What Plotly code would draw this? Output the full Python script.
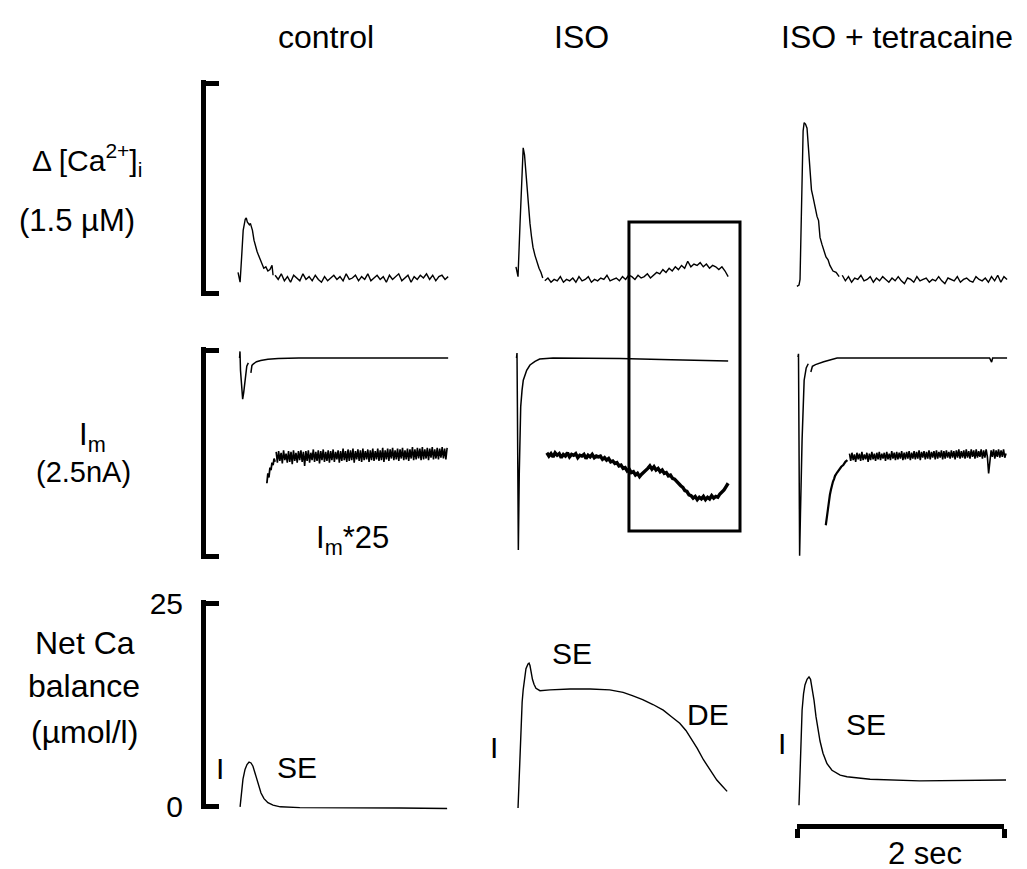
import numpy as np
import plotly.graph_objects as go

W, H = 1027, 869

# ---------------- DATA (time in s from each column's trace start) ----------------
# Row 1: Delta [Ca2+]i (uM)
ca_ctrl_t = [0.01, 0.03, 0.045, 0.06, 0.08, 0.09, 0.10, 0.12, 0.13, 0.15, 0.165, 0.18, 0.195, 0.21, 0.225, 0.24, 0.26, 0.28, 0.30, 0.32, 0.34, 0.35]
ca_ctrl_v = [0.04, -0.03, 0.15, 0.34, 0.42, 0.43, 0.40, 0.38, 0.39, 0.34, 0.27, 0.22, 0.19, 0.16, 0.13, 0.10, 0.07, 0.08, 0.05, 0.06, 0.09, 0.02]
ca_ctrl_tail = [0.02, -0.01, 0.03, -0.02, 0.01, -0.03, 0.02, 0.00, -0.02, 0.03, -0.01, 0.01, -0.02, 0.02, -0.01, -0.03, 0.01, -0.02, 0.00, 0.02,
                -0.01, 0.01, -0.02, 0.03, -0.01, 0.00, 0.02, -0.02, 0.01, -0.01, 0.03, -0.02, 0.00, 0.02, -0.01, 0.01, -0.03, 0.02, -0.01, 0.01,
                0.03, -0.02, 0.00, 0.02, -0.03, 0.01, -0.01, 0.02, 0.00, 0.03, -0.01, 0.02, -0.02, 0.01, 0.02, -0.01, 0.01]
ca_ctrl_tail_span = (0.37, 2.05)

ca_iso_t = [-0.01, 0.01, 0.03, 0.045, 0.06, 0.073, 0.087, 0.097, 0.11, 0.126, 0.14, 0.155, 0.175, 0.194, 0.214, 0.233, 0.25]
ca_iso_v = [0.08, 0.01, 0.40, 0.70, 0.93, 0.88, 0.74, 0.70, 0.55, 0.39, 0.30, 0.22, 0.16, 0.11, 0.07, 0.04, 0.00]
ca_iso_tail = [-0.02, 0.00, -0.03, -0.01, -0.02, 0.01, -0.03, -0.01, -0.02, 0.00, -0.03, 0.01, -0.02, -0.01, 0.01, -0.03, -0.01, -0.02, 0.00, -0.01,
               0.02, -0.02, -0.01, 0.00, -0.02, 0.01, -0.01, 0.02,
               0.01, -0.01, 0.02, 0.00, 0.01, 0.03, 0.00, 0.02, 0.04, 0.03, 0.06, 0.04, 0.07, 0.05, 0.08, 0.06, 0.09, 0.07, 0.12, 0.08,
               0.10, 0.09, 0.11, 0.08, 0.10, 0.07, 0.09, 0.08, 0.06, 0.08, 0.05, 0.01]
ca_iso_tail_span = (0.27, 2.05)

ca_tet_t = [-0.02, 0.0, 0.01, 0.02, 0.03, 0.04, 0.05, 0.063, 0.078, 0.092, 0.107, 0.121, 0.136, 0.155, 0.175, 0.19, 0.204, 0.223, 0.243, 0.262, 0.282, 0.30, 0.33, 0.36, 0.39]
ca_tet_v = [-0.06, -0.05, -0.01, 0.30, 0.70, 1.05, 1.11, 1.10, 1.07, 0.93, 0.77, 0.63, 0.58, 0.50, 0.44, 0.41, 0.29, 0.24, 0.20, 0.15, 0.13, 0.09, 0.05, 0.04, 0.01]
ca_tet_tail = [0.02, -0.02, 0.01, -0.03, 0.00, -0.01, 0.02, -0.02, -0.01, 0.01, -0.03, 0.00, -0.02, 0.01, -0.01, -0.03, 0.00, -0.02, 0.01, -0.02,
               -0.04, 0.00, -0.01, -0.03, 0.01, -0.02, -0.01, 0.00, -0.03, -0.01, -0.02, 0.01, -0.02, -0.04, 0.00, -0.01, -0.02, 0.01, -0.03, -0.01,
               0.00, -0.02, -0.03, 0.01, -0.01, -0.02, 0.00, -0.03, 0.01, -0.02, 0.02, -0.03, 0.01, -0.01]
ca_tet_tail_span = (0.42, 2.02)

# Row 2: Im (nA), top trace raw, bottom trace Im*25 (offset for display)
im_ctrl_t = [0.025, 0.029, 0.034, 0.045, 0.055, 0.065, 0.08, 0.095, 0.11, None, 0.135, 0.145, 0.16, 0.19, 0.23, 0.30, 0.40, 0.60, 2.05]
im_ctrl_v = [0.0, 0.08, -0.15, -0.35, -0.50, -0.42, -0.22, -0.10, -0.06, None, -0.18, -0.09, -0.07, -0.045, -0.03, -0.015, -0.005, 0.0, 0.0]
im25_ctrl_t = [0.29, 0.30, 0.31, 0.32, 0.33, 0.34, 0.35, 0.36, 0.37]
im25_ctrl_v = [-1.52, -1.40, -1.45, -1.33, -1.36, -1.27, -1.30, -1.22, -1.26]
im25_ctrl_tail = [-1.14, -1.27, -1.13, -1.25, -1.15, -1.28, -1.12, -1.24, -1.16, -1.27, -1.13, -1.26, -1.14, -1.29, -1.12, -1.25, -1.15, -1.27, -1.13, -1.24,
                  -1.12, -1.26, -1.14, -1.31, -1.13, -1.25, -1.12, -1.27, -1.15, -1.24, -1.11, -1.26, -1.14, -1.25, -1.12, -1.28, -1.13, -1.24, -1.11, -1.26,
                  -1.14, -1.25, -1.12, -1.27, -1.13, -1.24, -1.11, -1.26, -1.14, -1.23, -1.12, -1.27, -1.13, -1.25, -1.10, -1.24, -1.13, -1.26, -1.11, -1.25,
                  -1.12, -1.24, -1.10, -1.27, -1.13, -1.23, -1.11, -1.25, -1.12, -1.26, -1.10, -1.24, -1.13, -1.23, -1.11, -1.26, -1.12, -1.24, -1.10, -1.25,
                  -1.13, -1.23, -1.10, -1.25, -1.12, -1.24, -1.09, -1.26, -1.12, -1.23, -1.10, -1.25, -1.11, -1.22, -1.09, -1.24, -1.12, -1.23, -1.10, -1.25,
                  -1.11, -1.22, -1.09, -1.24, -1.12, -1.23, -1.10, -1.25, -1.11, -1.22, -1.08, -1.24, -1.11, -1.23, -1.09, -1.22, -1.10, -1.24, -1.08, -1.23,
                  -1.11, -1.22, -1.09, -1.24, -1.10, -1.21, -1.08, -1.23, -1.11, -1.22, -1.09, -1.23, -1.10, -1.21, -1.08, -1.22, -1.10, -1.23, -1.09]
im25_ctrl_tail_span = (0.38, 2.04)

im_iso_t = [-0.005, 0.0, 0.004, 0.008, 0.013, 0.022, 0.036, 0.049, 0.061, 0.094, 0.126, 0.175, 0.22, 0.35, 1.0, 1.5, 2.05]
im_iso_v = [0.0, 0.06, -0.6, -1.8, -2.33, -1.40, -0.59, -0.39, -0.27, -0.15, -0.085, -0.04, -0.012, 0.0, -0.005, -0.02, -0.035]
im25_iso = [-1.15, -1.19, -1.16, -1.20, -1.15, -1.18, -1.16, -1.21, -1.17, -1.19, -1.15, -1.20, -1.17, -1.18, -1.16, -1.21, -1.18, -1.19,
            -1.17, -1.22, -1.18, -1.20, -1.17, -1.21, -1.19, -1.20,
            -1.19, -1.23, -1.21, -1.24, -1.22, -1.26, -1.25, -1.28, -1.27, -1.31, -1.30, -1.34, -1.33, -1.37, -1.35, -1.39, -1.38, -1.42,
            -1.40, -1.44, -1.41,
            -1.39, -1.36, -1.34, -1.31, -1.35, -1.32, -1.36, -1.34, -1.38, -1.36, -1.40, -1.39,
            -1.43, -1.42, -1.46, -1.47, -1.50, -1.52, -1.55, -1.57, -1.61, -1.62, -1.66, -1.67, -1.70, -1.68, -1.72, -1.69,
            -1.71, -1.68, -1.72, -1.69, -1.71, -1.67, -1.70, -1.68, -1.69, -1.65, -1.63, -1.60, -1.56, -1.52]
im25_iso_span = (0.29, 2.05)

im_tet_t = [-0.01, -0.005, 0.0, 0.006, 0.014, 0.03, 0.05, 0.07, 0.09, None, 0.115, 0.13, 0.16, 0.20, 0.24, 0.30, 0.37, 1.85, 1.87, 1.88, 2.02]
im_tet_v = [0.01, 0.05, -1.0, -2.40, -1.9, -0.99, -0.27, -0.12, -0.07, None, -0.17, -0.10, -0.08, -0.06, -0.045, -0.025, 0.0, 0.0, -0.05, 0.0, 0.0]
im25_tet_t = [0.26, 0.27, 0.28, 0.29, 0.30, 0.31, 0.32, 0.33, 0.34, 0.35, 0.37, 0.39, 0.41, 0.43, 0.45, 0.47]
im25_tet_v = [-2.03, -1.92, -1.83, -1.74, -1.66, -1.60, -1.54, -1.50, -1.47, -1.43, -1.39, -1.35, -1.32, -1.30, -1.26, -1.24]
im25_tet_tail = [-1.16, -1.25, -1.15, -1.24, -1.17, -1.26, -1.15, -1.23, -1.16, -1.25, -1.14, -1.24, -1.17, -1.23, -1.15, -1.26, -1.16, -1.24, -1.14, -1.23,
                 -1.16, -1.25, -1.15, -1.23, -1.14, -1.24, -1.16, -1.22, -1.15, -1.25, -1.14, -1.23, -1.16, -1.24, -1.13, -1.22, -1.15, -1.24, -1.14, -1.23,
                 -1.15, -1.22, -1.13, -1.24, -1.15, -1.23, -1.14, -1.22, -1.13, -1.24, -1.15, -1.22, -1.13, -1.23, -1.14, -1.22, -1.12, -1.24, -1.14, -1.21,
                 -1.13, -1.23, -1.14, -1.22, -1.12, -1.23, -1.14, -1.21, -1.13, -1.23, -1.12, -1.22, -1.14, -1.21, -1.12, -1.23, -1.13, -1.22, -1.12, -1.21,
                 -1.14, -1.22, -1.12, -1.21, -1.13, -1.23, -1.12, -1.21, -1.11, -1.22, -1.13, -1.21, -1.12, -1.22, -1.11, -1.21, -1.13, -1.22, -1.11, -1.20,
                 -1.12, -1.22, -1.11, -1.21, -1.13, -1.20, -1.11, -1.22, -1.12, -1.21, -1.11, -1.20, -1.40, -1.21, -1.12, -1.20, -1.11, -1.22, -1.12, -1.20,
                 -1.11, -1.21, -1.12, -1.20, -1.11, -1.21, -1.16]
im25_tet_tail_span = (0.49, 2.01)

# Row 3: Net Ca balance (umol/l)
net_ctrl_t = [0.03, 0.044, 0.058, 0.078, 0.097, 0.117, 0.136, 0.155, 0.175, 0.194, 0.214, 0.233, 0.262, 0.30, 0.35, 0.42, 0.61, 1.10, 1.58, 2.04]
net_ctrl_v = [-0.1, 1.5, 3.3, 4.5, 5.1, 5.4, 5.3, 4.9, 4.1, 3.2, 2.3, 1.6, 0.9, 0.4, 0.1, -0.1, -0.2, -0.2, -0.25, -0.3]
net_iso_t = [0.01, 0.02, 0.03, 0.04, 0.05, 0.06, 0.073, 0.087, 0.107, 0.117, 0.126, 0.136, 0.15, 0.165, 0.184, 0.223, 0.32, 0.515, 0.71,
             0.90, 1.03, 1.12, 1.22, 1.32, 1.42, 1.50, 1.58, 1.64, 1.68, 1.75, 1.81, 1.88, 1.94, 1.99, 2.04]
net_iso_v = [-0.25, 3.2, 7.0, 10.6, 12.8, 14.3, 15.8, 16.9, 17.5, 17.6, 17.3, 16.5, 15.6, 15.0, 14.5, 14.2, 14.3, 14.4, 14.4,
             14.3, 14.0, 13.6, 13.1, 12.5, 11.8, 11.0, 10.2, 9.3, 8.5, 7.1, 5.7, 4.4, 3.2, 2.5, 1.8]
net_tet_t = [0.0, 0.01, 0.02, 0.03, 0.044, 0.058, 0.078, 0.097, 0.112, 0.126, 0.146, 0.165, 0.184, 0.204, 0.233, 0.272, 0.32, 0.40,
             0.466, 0.69, 1.17, 1.66, 2.01]
net_tet_v = [0.1, 4.0, 8.5, 11.8, 13.8, 14.9, 15.6, 15.9, 15.6, 14.7, 13.0, 11.0, 9.3, 8.0, 6.5, 5.2, 4.4, 3.8, 3.6, 3.3, 3.1, 3.2, 3.2]

columns = ["control", "ISO", "ISO + tetracaine"]
# scale bars: (low, high) value of each row's bracket
bar_ranges = [(-0.107, 1.393), (-2.403, 0.097), (0.0, 25.0)]
net_ticks = [0, 25]
net_ticktext = ["0", "25"]
time_bar = [0, 2]
iso_box_t = (1.087, 2.165)

# ---------------- LAYOUT GEOMETRY (pixels of the target picture) ----------------
OFF = 8      # the page shows the figure 8 px in from the top-left corner
col_start_px = [237, 517, 799]
col_dom_px = [(206, 470), (486, 760), (768, 1020)]
row_dom_px = [(83, 293), (350, 556), (603, 806)]
PX_PER_S = 103.0
PAD = 14     # extra room around each row for the traces
BPAD = 3     # so that end ticks of bracket lie inside the axis range
FONT = "Arial, Liberation Sans, sans-serif"


def fx(p):
    return (p - OFF) / W


def fy(p):
    return 1 - (p - OFF) / H


def tail(span, vals):
    return list(np.linspace(span[0], span[1], len(vals))), list(vals)


fig = go.Figure()

traces = {
    (0, 0): [(ca_ctrl_t, ca_ctrl_v, 1.4), (*tail(ca_ctrl_tail_span, ca_ctrl_tail), 1.4)],
    (0, 1): [(ca_iso_t, ca_iso_v, 1.4), (*tail(ca_iso_tail_span, ca_iso_tail), 1.4)],
    (0, 2): [(ca_tet_t, ca_tet_v, 1.4), (*tail(ca_tet_tail_span, ca_tet_tail), 1.4)],
    (1, 0): [(im_ctrl_t, im_ctrl_v, 1.5), (im25_ctrl_t, im25_ctrl_v, 1.8), (*tail(im25_ctrl_tail_span, im25_ctrl_tail), 1.6)],
    (1, 1): [(im_iso_t, im_iso_v, 1.5), (*tail(im25_iso_span, im25_iso), 3.4)],
    (1, 2): [(im_tet_t, im_tet_v, 1.5), (im25_tet_t, im25_tet_v, 2.2), (*tail(im25_tet_tail_span, im25_tet_tail), 1.6)],
    (2, 0): [(net_ctrl_t, net_ctrl_v, 1.4)],
    (2, 1): [(net_iso_t, net_iso_v, 1.4)],
    (2, 2): [(net_tet_t, net_tet_v, 1.4)],
}

layout_axes = {}
for r in range(3):
    top, bot = row_dom_px[r]
    lo, hi = bar_ranges[r]
    upp = (hi - lo) / (bot - top)
    for c in range(3):
        idx = r * 3 + c + 1
        sfx = "" if idx == 1 else str(idx)
        L, R = col_dom_px[c]
        s = col_start_px[c]
        xr = [(L - s) / PX_PER_S, (R - s) / PX_PER_S]
        layout_axes["xaxis" + sfx] = dict(domain=[fx(L), fx(R)], range=xr, visible=False, anchor="y" + sfx)
        layout_axes["yaxis" + sfx] = dict(domain=[fy(bot + PAD), fy(top - PAD)],
                                          range=[lo - PAD * upp, hi + PAD * upp], anchor="x" + sfx, visible=False)
        for tt, vv, lw in traces[(r, c)]:
            fig.add_trace(go.Scatter(x=tt, y=vv, mode="lines", line=dict(color="black", width=lw),
                                     xaxis="x" + sfx, yaxis="y" + sfx, showlegend=False,
                                     hoverinfo="skip", connectgaps=False))
    # bracket scale bar for the row
    bidx = str(11 + r)
    layout_axes["xaxis" + bidx] = dict(domain=[fx(206), fx(236)], range=[0, 1], visible=False, anchor="y" + bidx)
    yb = dict(domain=[fy(bot + BPAD), fy(top - BPAD)], range=[lo - BPAD * upp, hi + BPAD * upp], anchor="x" + bidx,
              showgrid=False, zeroline=False, showline=True, linewidth=5, linecolor="black",
              ticks="inside", ticklen=13, tickwidth=5, tickcolor="black",
              tickvals=[lo, hi] if r < 2 else net_ticks, showticklabels=(r == 2))
    if r == 2:
        yb.update(ticktext=net_ticktext, tickfont=dict(family=FONT, size=30, color="black"), ticklabelstandoff=12)
    layout_axes["yaxis" + bidx] = yb
    fig.add_trace(go.Scatter(x=[0.5, 0.5], y=[lo, hi], mode="lines", line=dict(width=0), opacity=0,
                             xaxis="x" + bidx, yaxis="y" + bidx, showlegend=False, hoverinfo="skip"))

# time scale bar axis (2 sec)
layout_axes["xaxis10"] = dict(domain=[fx(797), fx(1004)], range=time_bar, anchor="y10", showline=True,
                              linewidth=5, linecolor="black", ticks="outside", ticklen=9, tickwidth=5,
                              tickcolor="black", tickvals=time_bar, showticklabels=False, showgrid=False,
                              zeroline=False, side="bottom")
layout_axes["yaxis10"] = dict(domain=[fy(824), fy(820)], range=[0, 1], visible=False, anchor="x10")
fig.add_trace(go.Scatter(x=time_bar, y=[0.5, 0.5], mode="lines", line=dict(width=0), opacity=0,
                         xaxis="x10", yaxis="y10", showlegend=False, hoverinfo="skip"))

ann = []


def txt(s, x, y, size=32):
    ann.append(dict(text=s, x=fx(x), y=fy(y), xref="paper", yref="paper", showarrow=False,
                    xanchor="center", yanchor="middle", font=dict(family=FONT, size=size, color="black")))


txt(columns[0], 326, 37, 32)
txt(columns[1], 581, 37, 32)
txt(columns[2], 897, 37, 32)
txt("Δ [Ca<sup>2+</sup>]<sub>i</sub>", 87, 160, 30)
txt("(1.5 µM)", 77, 220, 31)
txt("I<sub>m</sub>", 92, 437, 31)
txt("(2.5nA)", 83, 472, 29)
txt("I<sub>m</sub>*25", 352, 540, 31)
txt("Net Ca", 85, 643, 32)
txt("balance", 84, 686, 32)
txt("(µmol/l)", 84, 732, 32)
txt("I", 220, 768, 30)
txt("SE", 297, 767, 30)
txt("I", 494, 747, 30)
txt("SE", 572, 653, 30)
txt("DE", 708, 714, 30)
txt("I", 782, 743, 30)
txt("SE", 866, 724, 30)
txt("2 sec", 925, 853, 31)

shapes = [dict(type="rect", xref="x2", yref="paper", x0=iso_box_t[0], x1=iso_box_t[1],
               y0=fy(531), y1=fy(222), line=dict(color="black", width=3), fillcolor="rgba(0,0,0,0)")]

fig.update_layout(width=W, height=H, margin=dict(l=0, r=0, t=0, b=0, pad=0, autoexpand=False),
                  paper_bgcolor="white", plot_bgcolor="white", annotations=ann, shapes=shapes, **layout_axes)

fig.write_html("out.html")
